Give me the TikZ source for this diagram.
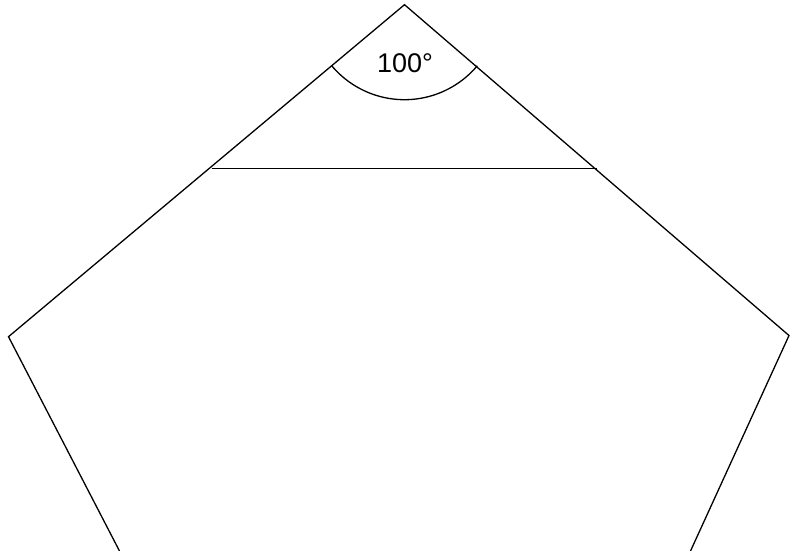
\documentclass[tikz,border=0pt]{standalone}
\usepackage{fontspec}
\setmainfont{Liberation Sans}
\begin{document}
\begin{tikzpicture}[x=1pt,y=-1pt,
  edge/.style={line width=1.3pt,line join=miter},
  lbl/.style={font=\fontsize{27}{30}\selectfont,inner sep=0pt}]
\useasboundingbox (0,0) rectangle (790,551);
\coordinate (A) at (404.5,4.7);
\coordinate (L) at (8.5,336.7);
\coordinate (R) at (789,335.5);
\coordinate (BL) at (119.5,551);
\coordinate (BR) at (690.5,551);
\coordinate (H1) at (211.7,168.2);
\coordinate (H2) at (597,168.2);
\draw[edge] (BL) -- (L) -- (A) -- (R) -- (BR);
\draw[edge] (H1) -- (H2);
\draw[edge] ([shift={(140:95)}]A) arc[start angle=140,end angle=40,radius=95];
\node[lbl] (ang) at (405,63) {100°};
\end{tikzpicture}
\end{document}
